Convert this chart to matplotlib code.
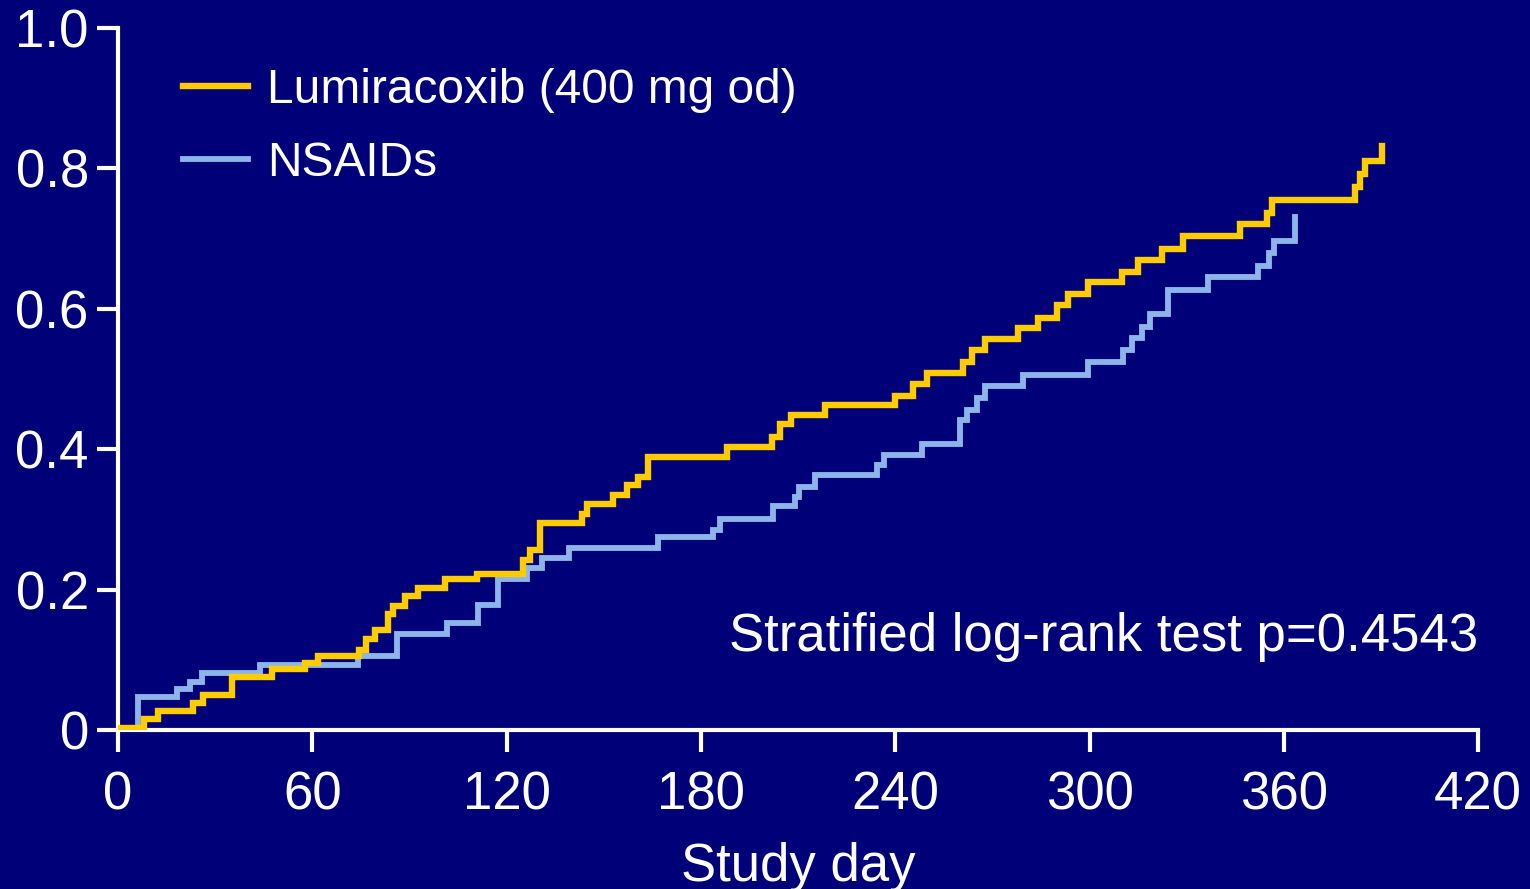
import matplotlib
matplotlib.use("Agg")
import matplotlib.pyplot as plt

plt.rcParams['font.family'] = ['Liberation Sans', 'DejaVu Sans']

# cumulative incidence, step changes (day, level)
lumi_days = [0, 8.0, 12.4, 23.2, 26.3, 35.2, 47.6, 57.8, 61.8, 74.4, 76.6, 79.4,
             83.4, 84.9, 88.6, 92.7, 101.0, 110.9, 125.1, 127.2, 130.3, 143.3,
             144.8, 152.9, 157.2, 160.6, 163.7, 188.1, 202.0, 204.4, 207.8,
             218.3, 240.0, 245.5, 249.8, 261.0, 263.7, 267.8, 278.0, 284.1,
             290.0, 293.4, 299.6, 310.1, 315.0, 322.4, 328.9, 346.5, 354.8,
             356.4, 382.0, 383.6, 385.1, 390.4]
lumi_vals = [0.003, 0.016, 0.027, 0.038, 0.050, 0.075, 0.087, 0.095, 0.105,
             0.114, 0.130, 0.142, 0.165, 0.177, 0.191, 0.202, 0.215, 0.222,
             0.242, 0.256, 0.295, 0.308, 0.322, 0.335, 0.349, 0.360, 0.389,
             0.403, 0.417, 0.436, 0.449, 0.463, 0.476, 0.493, 0.509, 0.524,
             0.541, 0.557, 0.573, 0.587, 0.605, 0.621, 0.638, 0.652, 0.670,
             0.685, 0.704, 0.721, 0.736, 0.755, 0.774, 0.792, 0.811, 0.832]

nsaid_days = [0, 6.3, 18.2, 22.2, 25.9, 43.9, 74.1, 86.2, 101.6, 111.2, 117.2,
              126.3, 130.9, 139.3, 166.8, 183.8, 185.9, 202.3, 209.1, 210.3,
              215.3, 234.4, 236.6, 248.3, 260.0, 262.2, 265.3, 267.8, 279.5,
              299.6, 310.4, 313.2, 316.2, 318.7, 324.3, 336.6, 352.1, 355.5,
              357.0, 363.5]
nsaid_vals = [0.001, 0.047, 0.058, 0.068, 0.081, 0.093, 0.105, 0.137, 0.152,
              0.178, 0.215, 0.231, 0.245, 0.259, 0.275, 0.285, 0.301, 0.319,
              0.332, 0.346, 0.363, 0.377, 0.392, 0.407, 0.442, 0.456, 0.473,
              0.490, 0.506, 0.524, 0.541, 0.558, 0.574, 0.593, 0.627, 0.645,
              0.661, 0.679, 0.697, 0.731]

x_ticks = [0, 60, 120, 180, 240, 300, 360, 420]
y_ticks = [0, 0.2, 0.4, 0.6, 0.8, 1.0]
y_tick_labels = ['0', '0.2', '0.4', '0.6', '0.8', '1.0']

bg = '#000078'
yellow = '#ffcc00'
blue = '#8cb6ea'
fs = 38
leg_fs = 34.5

fig = plt.figure(figsize=(15.3, 8.89), dpi=100, facecolor=bg)
ax = fig.add_axes([0.0771, 0.1789, 0.889, 0.7896], facecolor=bg)

ax.step(nsaid_days, nsaid_vals, where='post', color=blue, lw=4.2,
        label='NSAIDs', solid_joinstyle='miter', zorder=3)
ax.step(lumi_days, lumi_vals, where='post', color=yellow, lw=4.6,
        label='Lumiracoxib (400 mg od)', solid_joinstyle='miter', zorder=4)

ax.set_xlim(0, 420)
ax.set_ylim(0, 1.0)
ax.set_xticks(x_ticks)
ax.set_yticks(y_ticks)
ax.set_yticklabels(y_tick_labels)

for side in ['top', 'right']:
    ax.spines[side].set_visible(False)
for side in ['left', 'bottom']:
    ax.spines[side].set_color('white')
    ax.spines[side].set_linewidth(3)
    ax.spines[side].set_zorder(2)

ax.tick_params(axis='both', colors='white', width=3, labelsize=fs)
ax.tick_params(axis='y', length=15, pad=6)
ax.tick_params(axis='x', length=16, pad=13)

ax.set_xlabel('Study day', color='white', fontsize=fs, labelpad=16)

ax.text(1.0, 0.1325, 'Stratified log-rank test p=0.4543', transform=ax.transAxes,
        ha='right', va='center', color='white', fontsize=fs)

handles, labels = ax.get_legend_handles_labels()
leg = ax.legend(handles[::-1], labels[::-1], loc='upper left',
                bbox_to_anchor=(0.034, 0.97), frameon=False, fontsize=leg_fs,
                handlelength=1.34, handletextpad=0.40, labelspacing=0.57,
                borderaxespad=0)
for t in leg.get_texts():
    t.set_color('white')

fig.savefig('out.png', dpi=100, facecolor=bg)
